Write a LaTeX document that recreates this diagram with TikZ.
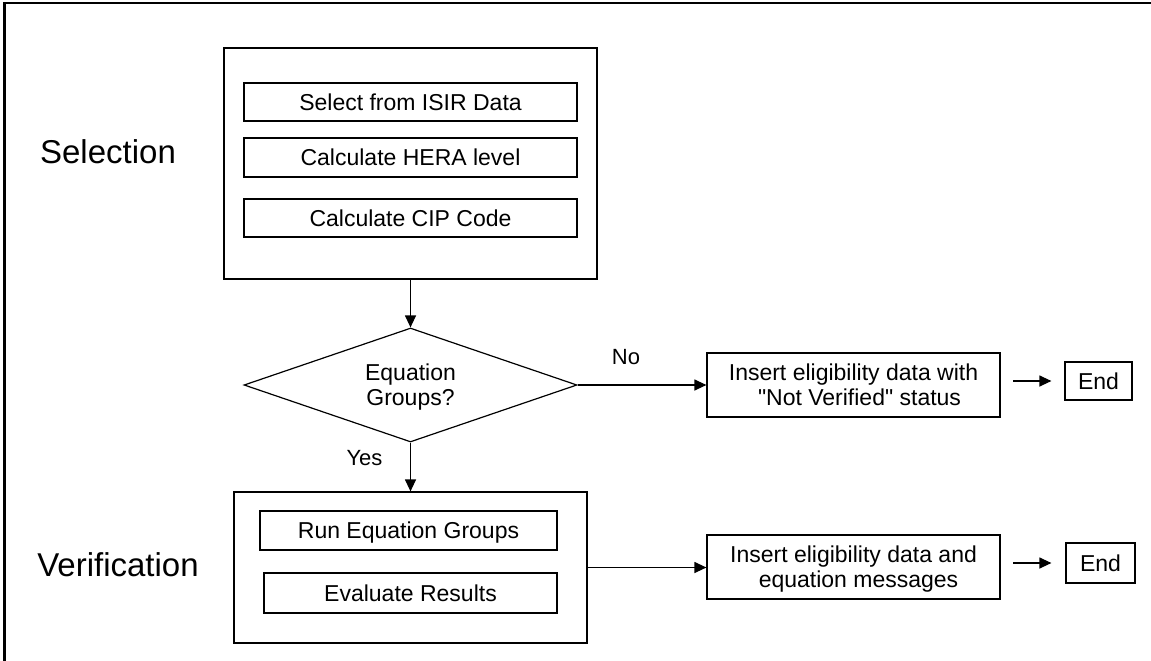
\documentclass[tikz,border=0pt]{standalone}
\usepackage{fontspec}
\setmainfont{Liberation Sans}[Ligatures=TeXOff]
\usetikzlibrary{shapes.geometric,arrows.meta}
\newcommand\fsz[2]{\fontsize{#1}{#2}\selectfont}
\tikzset{
  boxline/.style={draw, line width=1.2pt, inner sep=0pt},
  txt/.style={inner sep=0pt, text height=16.5pt, text depth=0pt, font=\fsz{23}{25}, align=center},
  two/.style={text height=41.5pt, text depth=0pt},
  bx/.style={boxline, txt},
  lbl/.style={inner sep=0pt, text height=15.8pt, text depth=0pt, font=\fsz{22}{25}},
  big/.style={inner sep=0pt, text height=23.6pt, text depth=0pt, font=\fsz{33}{36}},
  arr/.style={line width=1.2pt, -{Triangle[length=12pt,width=11pt]}},
}
\begin{document}
\begin{tikzpicture}[x=1pt,y=-1pt]
\useasboundingbox (0,0) rectangle (1151,661);
\fill[white] (0,0) rectangle (1151,661);
\draw[line width=2.5pt] (4.5,661) -- (4.5,3) -- (1151,3);

% labels
\node[big] (sellbl) at (108,152) {Selection};
\node[big] (verlbl) at (118,565) {Verification};

% selection block
\node[boxline, minimum width=373pt, minimum height=231pt] (sel) at (410.5,163.5) {};
\node[bx, minimum width=333pt, minimum height=38pt] (s1) at (410.5,102) {Select from ISIR Data};
\node[bx, minimum width=333pt, minimum height=39pt] (s2) at (410.5,157.5) {Calculate HERA level};
\node[bx, minimum width=333pt, minimum height=38pt] (s3) at (410.5,218) {Calculate CIP Code};

% decision
\node[boxline, shape=diamond, aspect=2.92, minimum width=333pt, minimum height=114pt] (dia) at (410.5,385) {};
\node[txt, two] (diatxt) at (410.5,385) {Equation\\Groups?};

% verification block
\node[boxline, minimum width=353pt, minimum height=151pt] (ver) at (410.5,567.5) {};
\node[bx, minimum width=297pt, minimum height=39pt] (v1) at (408.5,530.5) {Run Equation Groups};
\node[bx, minimum width=293pt, minimum height=40pt] (v2) at (410.5,593) {Evaluate Results};

% right side
\node[bx, two, minimum width=293pt, minimum height=64pt] (ins1) at (853.5,385) {Insert eligibility data with\\\hspace*{12pt}"Not Verified" status};
\node[bx, two, minimum width=293pt, minimum height=64pt] (ins2) at (853.5,567) {Insert eligibility data and\\\hspace*{10pt}equation messages};
\node[bx, minimum width=67pt, minimum height=38pt] (end1) at (1098.5,381) {End};
\node[bx, minimum width=69pt, minimum height=40pt] (end2) at (1100.5,563) {End};

% connectors
\draw[arr] (sel.south) -- (dia.north);
\draw[arr] (dia.south) -- (ver.north);
\draw[arr] (dia.east) -- (ins1.west);
\draw[arr] (ver.east) -- (ver.east -| ins2.west);
\draw[arr] ([xshift=-51pt]end1.west) -- ([xshift=-13pt]end1.west);
\draw[arr] ([xshift=-52pt]end2.west) -- ([xshift=-14pt]end2.west);

\node[lbl] (yes) at (364.5,458) {Yes};
\node[lbl] (no) at (626,357) {No};
\end{tikzpicture}
\end{document}
